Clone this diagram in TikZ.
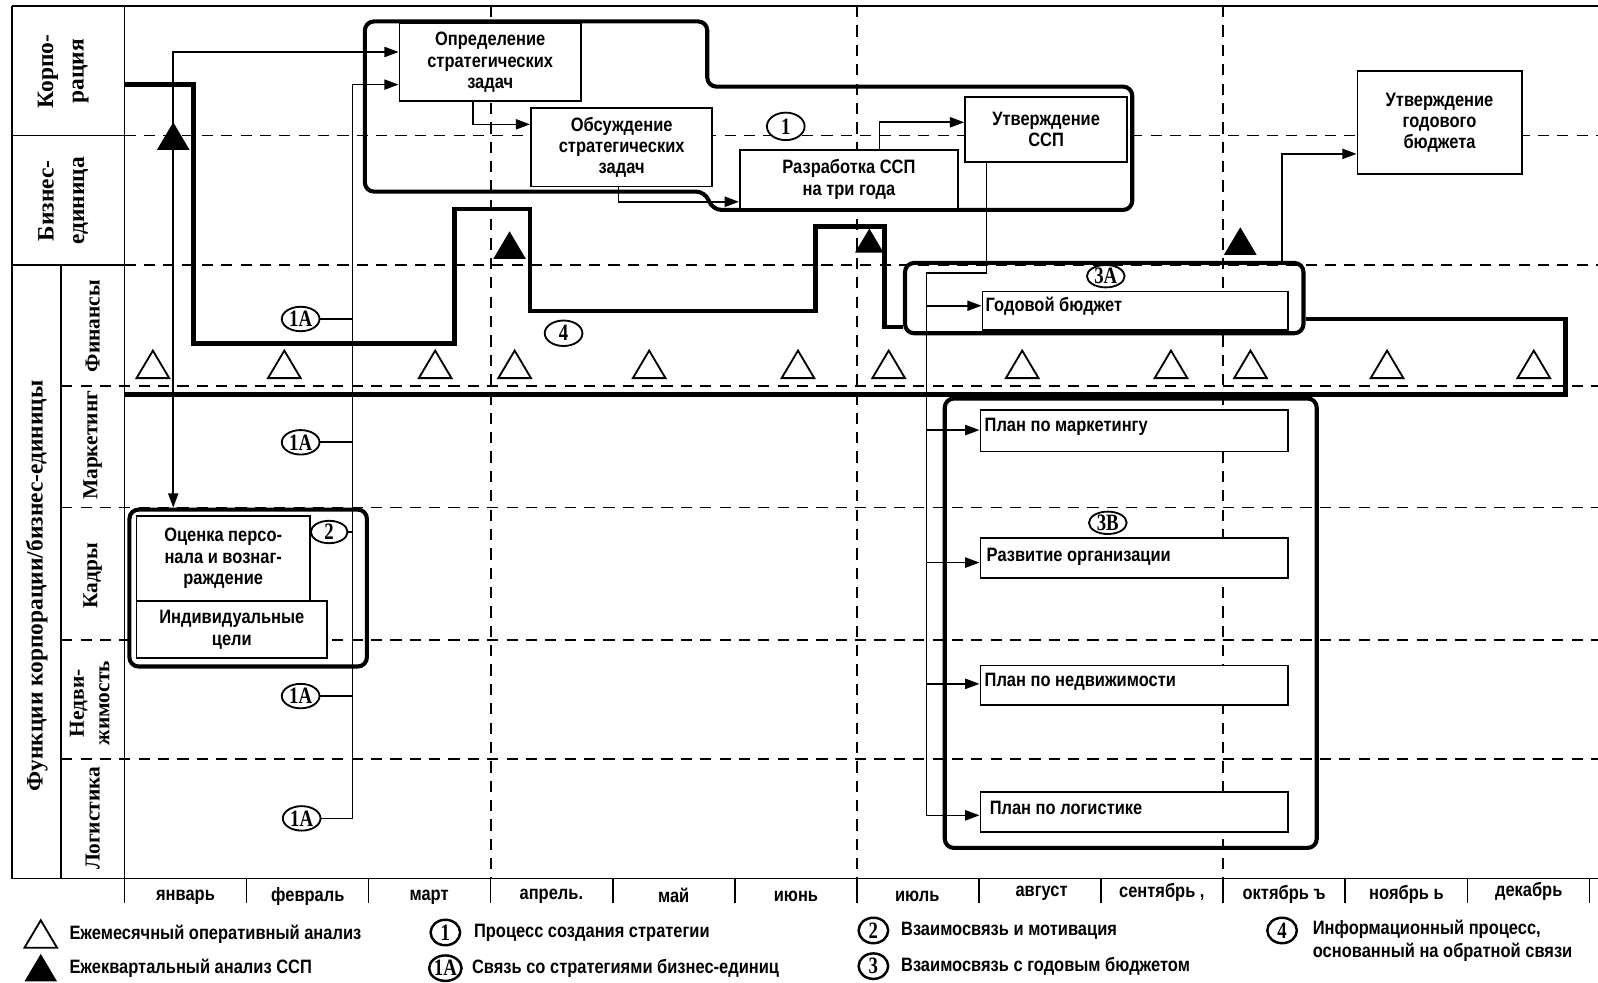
\documentclass[tikz,border=0pt]{standalone}
\usepackage{fontspec}
\setmainfont{Liberation Sans}[FakeStretch=0.85]
\newfontfamily\lblfamily{Liberation Serif}
\newfontfamily\tagfamily{Liberation Serif}[FakeStretch=0.8]
\usetikzlibrary{arrows.meta,shapes.geometric}
\newcommand\bxfont{\fontsize{19}{21}\selectfont\bfseries}
\newcommand\lgfont{\fontsize{19}{22}\selectfont\bfseries}
\newcommand\lbfont{\lblfamily\fontsize{23}{30}\selectfont\bfseries}
\newcommand\sblfont{\lblfamily\fontsize{21}{25}\selectfont\bfseries}
\newcommand\tgfont{\tagfamily\fontsize{23}{23}\selectfont\bfseries}
\tikzset{
  solid line/.style={line width=1.6pt},
  grid dash/.style={line width=1.8pt, dash pattern=on 11pt off 8pt},
  feedback/.style={line width=4.5pt, line join=miter},
  group/.style={line width=4pt, rounded corners=9pt},
  groupnode/.style={draw, line width=4pt, rounded corners=9pt, inner sep=0pt},
  box/.style={draw, line width=1.8pt, fill=white, inner sep=0pt, font=\bxfont, align=center},
  conn/.style={line width=1.6pt},
  arr/.style={line width=1.6pt, -{Triangle[length=14pt,width=10pt]}},
  arrboth/.style={line width=1.6pt, {Triangle[length=14pt,width=10pt]}-{Triangle[length=14pt,width=10pt]}},
  tag/.style={draw, ellipse, line width=1.8pt, fill=white, minimum width=37pt, minimum height=24pt, inner sep=0pt, font=\tgfont},
  ltag/.style={draw, ellipse, line width=2.4pt, fill=white, minimum width=29pt, minimum height=25pt, inner sep=0pt, font=\tgfont},
  txt/.style={inner sep=0pt, font=\bxfont},
  legtxt/.style={inner sep=0pt, font=\lgfont, anchor=west},
  mtri/.pic={\draw[line width=1.8pt, fill=white, line join=miter] (-16,0) -- (0,-27) -- (16,0) -- cycle;},
  qtri/.pic={\fill[black] (-16,0) -- (0,-27) -- (16,0) -- cycle;},
}
\begin{document}
\begin{tikzpicture}[x=1pt,y=-1pt]
\useasboundingbox (0,0) rectangle (1568,964);

% dashed grid
\foreach \yy in {133,260} \draw[grid dash] (122,\yy) -- (1568,\yy);
\foreach \yy in {379,498,628,745} \draw[grid dash] (60,\yy) -- (1568,\yy);
\foreach \xx in {481.4,840.8,1200.2} \draw[grid dash] (\xx,6) -- (\xx,862);

% frame
\draw[solid line] (12,6) -- (1568,6);
\draw[solid line] (12,862) -- (1568,862);
\draw[solid line] (12,6) -- (12,862);
\draw[solid line] (122,6) -- (122,862);
\draw[solid line] (60,260) -- (60,862);
\draw[solid line] (12,133) -- (122,133);
\draw[solid line] (12,260) -- (122,260);
\foreach \k in {0,...,12} \draw[solid line] ({122+119.8*\k},862) -- ({122+119.8*\k},886);

% left labels
\node[rotate=90, align=center, font=\lbfont] (lcorp) at (62,70) {Корпо-\\рация};
\node[rotate=90, align=center, font=\lbfont] (lbu) at (62,197) {Бизнес-\\единица};
\node[rotate=90, font=\lbfont] (lfun) at (36,575) {Функции корпорации/бизнес-единицы};
\node[rotate=90, font=\sblfont] (lfin) at (91,320) {Финансы};
\node[rotate=90, font=\sblfont] (lmkt) at (91,437) {Маркетинг};
\node[rotate=90, font=\sblfont] (lhr) at (91,565) {Кадры};
\node[rotate=90, align=center, font=\sblfont] (lre) at (88,690) {Недви-\\жимость};
\node[rotate=90, font=\sblfont] (llog) at (91,803) {Логистика};

% months
\foreach \m/\xx/\yy [count=\i] in {январь/182/880, февраль/302/880, март/421/880, апрель./541/879, май/661/879, июнь/781/880, июль/900/880, август/1022/877, {сентябрь ,}/1140/876, {октябрь ъ}/1260/878, {ноябрь ь}/1380/878, декабрь/1500/875}
  \node[txt] (mon\i) at (\xx,\yy) {\m};

% triangles
\foreach \xx in {150,279,427,505,637,783,872,1003,1149,1227,1361,1505}
  \pic at (\xx,371) {mtri};
\pic at (170,147) {qtri};
\pic at (500,254) {qtri};
\pic[scale=0.88] at (853,248) {qtri};
\pic at (1217,250) {qtri};

% groups
\node[groupnode, minimum width=391pt, minimum height=69pt] (g3a) at (1083.5,292.5) {};
\node[groupnode, minimum width=365pt, minimum height=441pt] (g3b) at (1109.5,611.5) {};
\node[groupnode, minimum width=233pt, minimum height=154pt] (g2) at (243.5,577) {};
\draw[group] (358,21) -- (694,21) -- (694,85) -- (1111,85) -- (1111,206) -- (699,206) -- (692,188) -- (358,188) -- cycle;

% feedback line (4)
\draw[feedback] (122,83) -- (190,83) -- (190,337) -- (446,337) -- (446,205) -- (520,205) -- (520,305) -- (800,305) -- (800,222) -- (868,222) -- (868,321) -- (g3a.west |- 0,321);
\draw[feedback] (g3a.east |- 0,313) -- (1536,313) -- (1536,387) -- (122,387);

% boxes
\node[box, minimum width=178pt, minimum height=76pt] (opr) at (481,61) {Определение\\стратегических\\задач};
\node[box, minimum width=178pt, minimum height=77pt] (obs) at (610,144.5) {Обсуждение\\стратегических\\задач};
\node[box, minimum width=214pt, minimum height=58pt] (razr) at (833,176) {Разработка ССП\\на три года};
\node[box, minimum width=159pt, minimum height=64pt] (utv) at (1026.5,127) {Утверждение\\ССП};
\node[box, minimum width=161pt, minimum height=101pt] (utvb) at (1412.5,120.5) {Утверждение\\годового\\бюджета};
\node[box, minimum width=300pt, minimum height=38pt] (gb) at (1114,305) {};
\node[box, minimum width=302pt, minimum height=41pt] (mk) at (1113,422.5) {};
\node[box, minimum width=302pt, minimum height=39pt] (rz) at (1113,547.5) {};
\node[box, minimum width=302pt, minimum height=39pt] (nd) at (1113,672.5) {};
\node[box, minimum width=302pt, minimum height=39pt] (lg) at (1113,796.5) {};
\node[box, minimum width=170pt, minimum height=84pt] (ocen) at (219,548) {Оценка персо-\\нала и вознаг-\\раждение};
\node[box, minimum width=187pt, minimum height=56pt] (indiv) at (227.5,618) {Индивидуальные\\цели};

\node[txt, anchor=base west] (gbt) at (967,306) {Годовой бюджет};
\node[txt, anchor=base west] (mkt) at (966,423) {План по маркетингу};
\node[txt, anchor=base west] (rzt) at (968,551) {Развитие организации};
\node[txt, anchor=base west] (ndt) at (966,674) {План по недвижимости};
\node[txt, anchor=base west] (lgt) at (971,799) {План по логистике};

% tags
\node[tag, minimum height=27pt] (t1) at (771,124) {1};
\node[tag] (t1a1) at (295,313) {1A};
\node[tag] (t1a2) at (295,434) {1A};
\node[tag] (t1a3) at (295,683) {1A};
\node[tag] (t1a4) at (296,803) {1A};
\node[tag, minimum width=36pt, minimum height=22pt] (t2) at (323,522) {2};
\node[tag, minimum height=22pt] (t3a) at (1085,271) {3A};
\node[tag, minimum height=22pt] (t3b) at (1087,513) {3B};
\node[tag, minimum height=25pt] (t4) at (553,327) {4};

% connectors
\coordinate (vA) at (346,0);
\coordinate (vB) at (170,0);
\coordinate (bus) at (909,0);
\draw[arrboth] (opr.west |- 0,51) -- (vB |- 0,51) -- (vB |- g2.north);
\draw[arr] (vA |- t1a4.east) -- (vA |- 0,83) -- (opr.west |- 0,83);
\foreach \t in {t1a1,t1a2,t1a3,t1a4,t2} \draw[conn] (\t.east) -- (vA |- \t.east);
\draw[arr] (opr.south -| 464,0) |- (obs.west |- 0,122);
\draw[arr] (obs.south -| 607,0) |- (razr.west |- 0,198);
\draw[arr] (razr.north -| 863,0) |- (utv.west |- 0,120);
\draw[conn] (utv.south -| 968,0) |- (bus |- 0,268) -- (bus |- 0,800);
\draw[arr] (bus |- 0,300) -- (gb.west |- 0,300);
\draw[arr] (bus |- 0,422) -- (mk.west |- 0,422);
\draw[arr] (bus |- 0,552) -- (rz.west |- 0,552);
\draw[arr] (bus |- 0,671) -- (nd.west |- 0,671);
\draw[arr] (bus |- 0,800) -- (lg.west |- 0,800);
\draw[arr] (g3a.north -| 1258,0) |- (utvb.west |- 0,151);

% legend
\pic at (40,930) {mtri};
\pic at (40,963) {qtri};
\node[legtxt] (lg1) at (68,917) {Ежемесячный оперативный анализ};
\node[legtxt] (lg2) at (68,950) {Ежеквартальный анализ ССП};
\node[ltag] (lc1) at (437,915) {1};
\node[ltag, minimum width=31pt] (lc1a) at (437,950) {1A};
\node[legtxt] (lg3) at (465,915) {Процесс создания стратегии};
\node[legtxt] (lg4) at (463,950) {Связь со стратегиями бизнес-единиц};
\node[ltag] (lc2) at (857,913) {2};
\node[ltag] (lc3) at (857,948) {3};
\node[legtxt] (lg5) at (884,913) {Взаимосвязь и мотивация};
\node[legtxt] (lg6) at (884,948) {Взаимосвязь с годовым бюджетом};
\node[ltag] (lc4) at (1258,913) {4};
\node[legtxt, align=left, anchor=north west] (lg7) at (1288,903) {Информационный процесс,\\основанный на обратной связи};
\end{tikzpicture}
\end{document}
